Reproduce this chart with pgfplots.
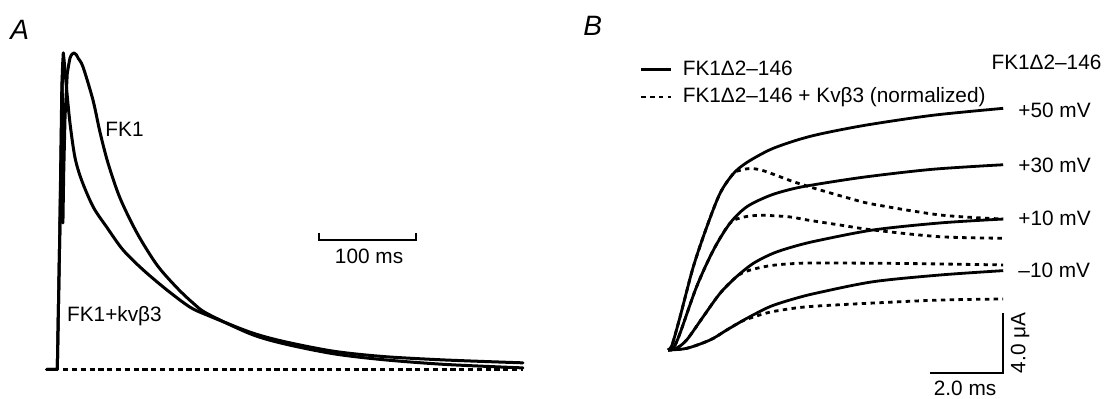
\documentclass[border=0pt]{standalone}
\usepackage{pgfplots}
\pgfplotsset{compat=1.18}
\usepackage{fontspec}
\setmainfont{Liberation Sans}

\begin{document}
\begin{tikzpicture}[font=\fontsize{10.4}{12}\selectfont]
\path[use as bounding box] (0,0) rectangle (553.5pt,199.5pt);
\node[anchor=west,inner sep=0pt,font=\fontsize{14}{16}\selectfont\itshape] at (5pt,184.75pt) {A};
\node[anchor=west,inner sep=0pt,font=\fontsize{14}{16}\selectfont\itshape] at (291.5pt,186.5pt) {B};

% ---------------- Panel A ----------------
\begin{axis}[at={(22.83pt,14.75pt)},anchor=south west,scale only axis,
  width=239.6pt,height=158.25pt,xmin=-12,xmax=482,ymin=0,ymax=1,
  hide axis,clip=false,
  tr/.style={black,line width=1.5pt,line join=round,line cap=round},
  trs/.style={tr,smooth,tension=0.5}]
% FK1 + kvbeta3 : rise (sharp) and decay (smooth)
\addplot[tr] coordinates {(-11,0)(0,0)(2.8,0.47)(5.4,0.96)(6.2,1.0)};
\addplot[trs] coordinates {
(6.2,1.0)(7.2,0.97)(9.7,0.883)(13.1,0.778)(18.2,0.670)(25.2,0.597)(37.1,0.513)
(50.9,0.450)(67.7,0.378)(88.4,0.315)(113.1,0.251)(136.8,0.197)(154.3,0.172)
(198.7,0.118)(232.7,0.089)(284.2,0.058)(335.8,0.041)(400,0.030)(480,0.021)};
% FK1 : rise with transient (sharp) and decay (smooth)
\addplot[tr] coordinates {(-11,0)(0,0)(2.5,0.42)(4.6,0.88)(5.0,0.93)(5.4,0.7)(5.8,0.463)
(6.6,0.62)(8,0.8)(10.3,0.936)};
\addplot[trs] coordinates {
(10.3,0.936)(13.1,0.984)(15.5,0.997)(17.2,1.0)(19.5,0.995)(21.6,0.983)(26.5,0.956)
(36.8,0.851)(44.0,0.750)(52.3,0.652)(64.6,0.542)(82.2,0.431)(102.8,0.330)
(123.4,0.258)(139.9,0.210)(154.3,0.177)(198.7,0.113)(232.7,0.082)(284.2,0.050)
(335.8,0.031)(400,0.016)(480,0.005)};
% baseline
\addplot[black,line width=1.2pt,dash pattern=on 2.6pt off 1.8pt] coordinates {(6,0)(480,0)};
\node[anchor=west,inner sep=0pt] at (axis cs:49.2,0.760) {FK1};
\node[anchor=west,inner sep=0pt] at (axis cs:9.7,0.169) {FK1+kvβ3};
\draw[line width=0.9pt] (axis cs:269.8,0.432) -- (axis cs:269.8,0.409) -- (axis cs:369.8,0.409) -- (axis cs:369.8,0.432);
\node[inner sep=0pt] at (axis cs:321.4,0.357) {100 ms};
\end{axis}

% ---------------- Panel B ----------------
\begin{axis}[at={(334pt,12.5pt)},anchor=south west,scale only axis,
  width=167.6pt,height=133.5pt,xmin=0,xmax=9.14,ymin=-1.6,ymax=16.2,
  hide axis,clip=false,
  legend style={at={(axis description cs:-0.0835,1.1732)},anchor=north west,
    draw=none,fill=none,inner sep=0pt,outer sep=0pt,row sep=4.8pt,column sep=5pt,
    nodes={inner sep=0pt},font=\fontsize{10.4}{12}\selectfont},
  legend cell align=left,
  legend image code/.code={\draw[#1] (0pt,0pt) -- (15pt,0pt);},
  sol/.style={black,line width=1.4pt,smooth,tension=0.5,line join=round},
  das/.style={black,line width=1.4pt,smooth,tension=0.5,dash pattern=on 2.2pt off 2.2pt},
]
% +50 mV
\addplot[sol] coordinates {(0,0)(0.11,0.33)(0.33,2.22)(0.69,5.55)(1.06,8.22)(1.42,10.45)
(1.78,11.75)(2.15,12.5)(2.78,13.35)(3.46,13.95)(4.15,14.4)(5.42,15.0)(7.23,15.65)(9.14,16.11)};
\addlegendentry{FK1Δ2–146}
\addplot[das] coordinates {(0,0)(0.11,0.33)(0.33,2.22)(0.69,5.55)(1.06,8.22)(1.42,10.45)
(1.78,11.75)(2.0,12.0)(2.24,12.1)(2.5,12.02)(2.78,11.8)(3.42,11.22)(4.06,10.73)
(4.96,10.1)(5.59,9.72)(7.42,9.0)(9.14,8.73)};
\addlegendentry{FK1Δ2–146 + Kvβ3 (normalized)}
% +30 mV
\addplot[sol,forget plot] coordinates {(0,0)(0.16,0.2)(0.33,1.13)(0.78,4.22)(1.24,6.67)
(1.69,8.45)(2.15,9.55)(2.78,10.3)(3.41,10.75)(4.06,11.05)(5.42,11.55)(7.23,12.05)(9.14,12.35)};
\addplot[das,forget plot] coordinates {(0,0)(0.16,0.2)(0.33,1.13)(0.78,4.22)(1.24,6.67)
(1.69,8.45)(2.05,8.85)(2.4,8.97)(2.65,8.98)(3.33,8.87)(3.79,8.67)(4.69,8.33)(5.59,8.0)
(7.42,7.55)(9.14,7.45)};
% +10 mV
\addplot[sol,forget plot] coordinates {(0,0)(0.22,0.1)(0.51,0.67)(0.96,2.22)(1.42,3.78)
(1.87,4.89)(2.33,5.78)(2.87,6.45)(3.42,6.89)(4.06,7.28)(5.59,8.0)(7.42,8.47)(9.14,8.73)};
\addplot[das,forget plot] coordinates {(0,0)(0.22,0.1)(0.51,0.67)(0.96,2.22)(1.42,3.78)
(1.87,4.89)(2.2,5.3)(2.78,5.62)(3.42,5.76)(4.06,5.8)(6.33,5.77)(9.14,5.67)};
% -10 mV
\addplot[sol,forget plot] coordinates {(0,0)(0.51,0.11)(1.15,0.67)(1.6,1.33)(2.15,2.11)
(2.78,2.89)(3.42,3.4)(4.06,3.8)(5.59,4.55)(7.42,5.0)(9.14,5.29)};
\addplot[das,forget plot] coordinates {(0,0)(0.51,0.11)(1.15,0.67)(1.6,1.33)(2.0,1.9)
(2.33,2.2)(2.78,2.52)(3.42,2.78)(4.06,2.93)(5.59,3.13)(7.42,3.33)(9.14,3.4)};
% labels
\node[anchor=east,inner sep=0pt] at (axis cs:11.83,19.2) {FK1Δ2–146};
\node[anchor=west,inner sep=0pt] at (axis cs:9.545,16.0) {+50 mV};
\node[anchor=west,inner sep=0pt] at (axis cs:9.545,12.3) {+30 mV};
\node[anchor=west,inner sep=0pt] at (axis cs:9.545,8.75) {+10 mV};
\node[anchor=west,inner sep=0pt] at (axis cs:9.545,5.3) {–10 mV};
% scale bars
\draw[line width=0.9pt] (axis cs:7.14,-1.55) -- (axis cs:9.14,-1.55) -- (axis cs:9.14,2.45);
\node[inner sep=0pt] at (axis cs:8.1,-2.57) {2.0 ms};
\node[inner sep=0pt,rotate=90] at (axis cs:9.6,0.47) {4.0 μA};
\end{axis}
\end{tikzpicture}
\end{document}
